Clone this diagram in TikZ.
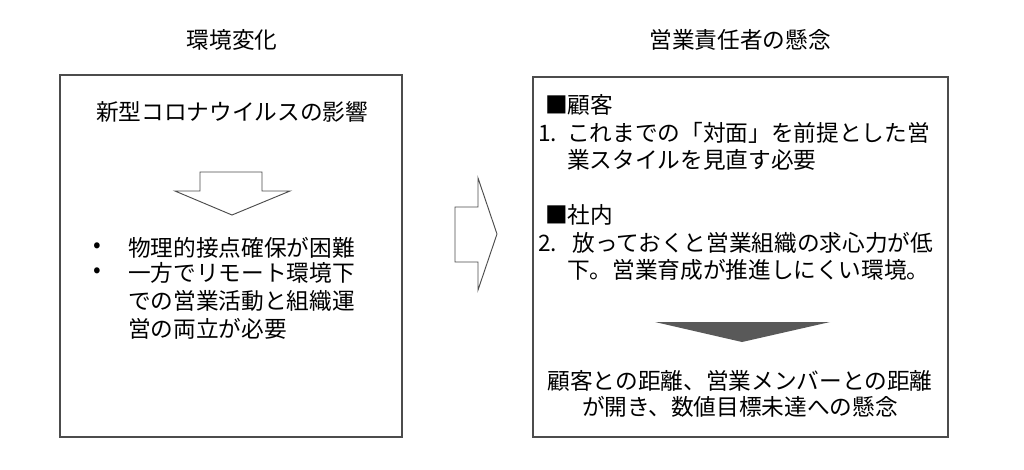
\documentclass[tikz,border=0pt]{standalone}
\usepackage{fontspec}
\setmainfont{Noto Sans CJK JP}
\usetikzlibrary{positioning}
\begin{document}
\begin{tikzpicture}%
    [x=0.75pt, y=-0.75pt,
    box/.style={draw=black!70, line width=0.8pt},
    txt/.style={inner sep=0pt, anchor=west, font=\fontsize{17pt}{20pt}\selectfont},
    title/.style={inner sep=0pt, font=\fontsize{17pt}{20pt}\selectfont},
    hollow/.style={draw=black!70, fill=white, line width=0.7pt},
    solid/.style={fill=black!65}]
    \useasboundingbox (0,0) rectangle (1024,469);
    %% Titles
    \node[title] (tl) at (232,40) {環境変化};
    \node[title] (tr) at (740,40) {営業責任者の懸念};
    %% Boxes
    \draw[box] (60,75) rectangle (402,437);
    \draw[box] (533,77) rectangle (948,437);
    %% Left contents
    \node[title] (cause) at (232,112) {新型コロナウイルスの影響};
    \draw[hollow] (200,172) -- (262,172) -- (262,191) -- (290,191) -- (232,215)
        -- (175,191) -- (200,191) -- cycle;
    \node[txt] (b1) at (93,248) {•};
    \node[txt] (l1) at (128,248) {物理的接点確保が困難};
    \node[txt] (b2) at (93,273) {•};
    \node[txt] (l2) at (128,273) {一方でリモート環境下};
    \node[txt] (l3) at (128,301) {での営業活動と組織運};
    \node[txt] (l4) at (128,329) {営の両立が必要};
    %% Middle arrow
    \draw[hollow] (455,207) -- (478,207) -- (478,178) -- (497,234) -- (478,290)
        -- (478,262) -- (455,262) -- cycle;
    %% Right contents
    \node[txt] (h1) at (545,105) {■顧客};
    \node[txt] (r1) at (538,133) {1.\ \ これまでの「対面」を前提とした営};
    \node[txt] (r2) at (567,160) {業スタイルを見直す必要};
    \node[txt] (h2) at (545,215) {■社内};
    \node[txt] (r3) at (538,243) {2.\ \ \ 放っておくと営業組織の求心力が低};
    \node[txt] (r4) at (567,270) {下。営業育成が推進しにくい環境。};
    \fill[solid] (655,322) -- (830,322) -- (742,342) -- cycle;
    \node[title] (c1) at (740,381) {顧客との距離、営業メンバーとの距離};
    \node[title] (c2) at (740,407) {が開き、数値目標未達への懸念};
\end{tikzpicture}
\end{document}
